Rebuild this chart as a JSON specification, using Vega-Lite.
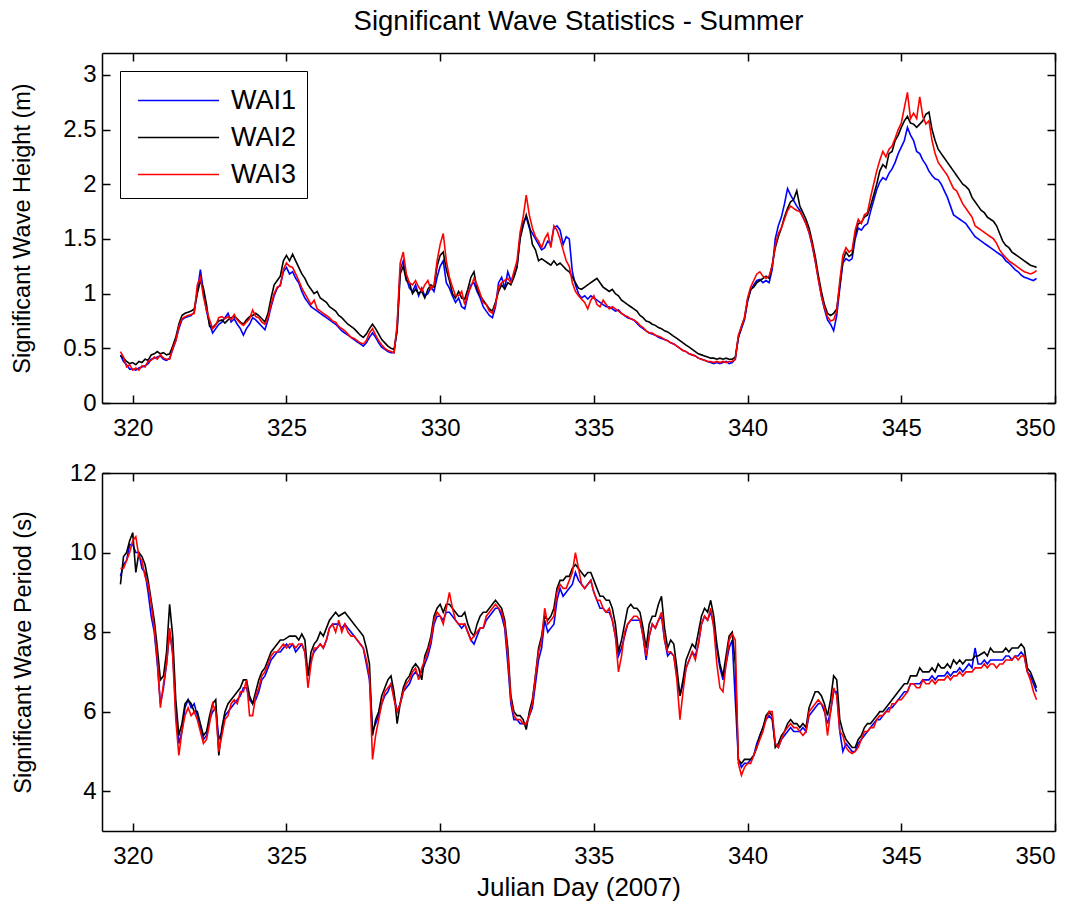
{
"$schema": "https://vega.github.io/schema/vega-lite/v6.json",
"padding": {"left": 10, "top": 7, "right": 20, "bottom": 5},
"spacing": 21,
"config": {
  "font": "Liberation Sans",
  "view": {"stroke": null},
  "axis": {"grid": false, "domainColor": "#000000", "tickColor": "#000000", "labelColor": "#000000", "titleColor": "#000000", "labelFontSize": 24, "titleFontSize": 23.5, "titleFontWeight": "normal", "tickSize": -8, "domainWidth": 1.5, "tickWidth": 1.5, "labelFont": "Liberation Sans", "titleFont": "Liberation Sans"}
},
"datasets": {
"hs": [
{"d":319.6,"WAI1":0.44,"WAI2":0.43,"WAI3":0.47},
{"d":319.7,"WAI1":0.38,"WAI2":0.41,"WAI3":0.42},
{"d":319.8,"WAI1":0.35,"WAI2":0.38,"WAI3":0.33},
{"d":319.9,"WAI1":0.31,"WAI2":0.36,"WAI3":0.35},
{"d":320.0,"WAI1":0.31,"WAI2":0.37,"WAI3":0.30},
{"d":320.1,"WAI1":0.30,"WAI2":0.35,"WAI3":0.32},
{"d":320.2,"WAI1":0.32,"WAI2":0.38,"WAI3":0.30},
{"d":320.3,"WAI1":0.33,"WAI2":0.37,"WAI3":0.34},
{"d":320.4,"WAI1":0.34,"WAI2":0.40,"WAI3":0.33},
{"d":320.5,"WAI1":0.36,"WAI2":0.39,"WAI3":0.38},
{"d":320.6,"WAI1":0.40,"WAI2":0.44,"WAI3":0.39},
{"d":320.7,"WAI1":0.41,"WAI2":0.45,"WAI3":0.42},
{"d":320.8,"WAI1":0.42,"WAI2":0.47,"WAI3":0.40},
{"d":320.9,"WAI1":0.43,"WAI2":0.45,"WAI3":0.44},
{"d":321.0,"WAI1":0.40,"WAI2":0.46,"WAI3":0.41},
{"d":321.1,"WAI1":0.39,"WAI2":0.44,"WAI3":0.40},
{"d":321.2,"WAI1":0.41,"WAI2":0.45,"WAI3":0.40},
{"d":321.3,"WAI1":0.49,"WAI2":0.52,"WAI3":0.50},
{"d":321.4,"WAI1":0.57,"WAI2":0.60,"WAI3":0.57},
{"d":321.5,"WAI1":0.68,"WAI2":0.72,"WAI3":0.70},
{"d":321.6,"WAI1":0.76,"WAI2":0.80,"WAI3":0.77},
{"d":321.7,"WAI1":0.78,"WAI2":0.82,"WAI3":0.79},
{"d":321.8,"WAI1":0.79,"WAI2":0.83,"WAI3":0.80},
{"d":321.9,"WAI1":0.80,"WAI2":0.84,"WAI3":0.81},
{"d":322.0,"WAI1":0.83,"WAI2":0.86,"WAI3":0.82},
{"d":322.1,"WAI1":1.02,"WAI2":1.00,"WAI3":1.08},
{"d":322.2,"WAI1":1.22,"WAI2":1.12,"WAI3":1.15},
{"d":322.3,"WAI1":1.02,"WAI2":1.05,"WAI3":0.97},
{"d":322.4,"WAI1":0.84,"WAI2":0.90,"WAI3":0.85},
{"d":322.5,"WAI1":0.72,"WAI2":0.70,"WAI3":0.76},
{"d":322.6,"WAI1":0.64,"WAI2":0.69,"WAI3":0.68},
{"d":322.7,"WAI1":0.68,"WAI2":0.72,"WAI3":0.71},
{"d":322.8,"WAI1":0.72,"WAI2":0.75,"WAI3":0.78},
{"d":322.9,"WAI1":0.74,"WAI2":0.76,"WAI3":0.79},
{"d":323.0,"WAI1":0.78,"WAI2":0.73,"WAI3":0.77},
{"d":323.1,"WAI1":0.82,"WAI2":0.76,"WAI3":0.79},
{"d":323.2,"WAI1":0.74,"WAI2":0.78,"WAI3":0.76},
{"d":323.3,"WAI1":0.77,"WAI2":0.79,"WAI3":0.81},
{"d":323.4,"WAI1":0.72,"WAI2":0.77,"WAI3":0.76},
{"d":323.5,"WAI1":0.68,"WAI2":0.74,"WAI3":0.73},
{"d":323.6,"WAI1":0.62,"WAI2":0.72,"WAI3":0.71},
{"d":323.7,"WAI1":0.68,"WAI2":0.76,"WAI3":0.74},
{"d":323.8,"WAI1":0.72,"WAI2":0.79,"WAI3":0.77},
{"d":323.9,"WAI1":0.78,"WAI2":0.80,"WAI3":0.85},
{"d":324.0,"WAI1":0.76,"WAI2":0.82,"WAI3":0.79},
{"d":324.1,"WAI1":0.73,"WAI2":0.80,"WAI3":0.78},
{"d":324.2,"WAI1":0.70,"WAI2":0.77,"WAI3":0.74},
{"d":324.3,"WAI1":0.67,"WAI2":0.74,"WAI3":0.72},
{"d":324.4,"WAI1":0.76,"WAI2":0.82,"WAI3":0.78},
{"d":324.5,"WAI1":0.88,"WAI2":0.96,"WAI3":0.90},
{"d":324.6,"WAI1":0.98,"WAI2":1.08,"WAI3":1.00},
{"d":324.7,"WAI1":1.05,"WAI2":1.12,"WAI3":1.06},
{"d":324.8,"WAI1":1.08,"WAI2":1.16,"WAI3":1.07},
{"d":324.9,"WAI1":1.20,"WAI2":1.30,"WAI3":1.22},
{"d":325.0,"WAI1":1.24,"WAI2":1.35,"WAI3":1.28},
{"d":325.1,"WAI1":1.18,"WAI2":1.30,"WAI3":1.25},
{"d":325.2,"WAI1":1.20,"WAI2":1.36,"WAI3":1.24},
{"d":325.3,"WAI1":1.14,"WAI2":1.30,"WAI3":1.18},
{"d":325.4,"WAI1":1.10,"WAI2":1.24,"WAI3":1.12},
{"d":325.5,"WAI1":1.02,"WAI2":1.18,"WAI3":1.05},
{"d":325.6,"WAI1":0.96,"WAI2":1.14,"WAI3":1.00},
{"d":325.7,"WAI1":0.92,"WAI2":1.08,"WAI3":0.95},
{"d":325.8,"WAI1":0.88,"WAI2":1.04,"WAI3":0.90},
{"d":325.9,"WAI1":0.86,"WAI2":1.00,"WAI3":0.94},
{"d":326.0,"WAI1":0.84,"WAI2":1.02,"WAI3":0.86},
{"d":326.1,"WAI1":0.82,"WAI2":0.96,"WAI3":0.84},
{"d":326.2,"WAI1":0.80,"WAI2":0.94,"WAI3":0.82},
{"d":326.3,"WAI1":0.78,"WAI2":0.92,"WAI3":0.80},
{"d":326.4,"WAI1":0.76,"WAI2":0.88,"WAI3":0.78},
{"d":326.5,"WAI1":0.74,"WAI2":0.86,"WAI3":0.75},
{"d":326.6,"WAI1":0.72,"WAI2":0.84,"WAI3":0.74},
{"d":326.7,"WAI1":0.69,"WAI2":0.80,"WAI3":0.70},
{"d":326.8,"WAI1":0.66,"WAI2":0.78,"WAI3":0.68},
{"d":326.9,"WAI1":0.64,"WAI2":0.75,"WAI3":0.66},
{"d":327.0,"WAI1":0.62,"WAI2":0.72,"WAI3":0.63},
{"d":327.1,"WAI1":0.60,"WAI2":0.70,"WAI3":0.60},
{"d":327.2,"WAI1":0.58,"WAI2":0.68,"WAI3":0.59},
{"d":327.3,"WAI1":0.56,"WAI2":0.65,"WAI3":0.57},
{"d":327.4,"WAI1":0.54,"WAI2":0.62,"WAI3":0.55},
{"d":327.5,"WAI1":0.52,"WAI2":0.60,"WAI3":0.54},
{"d":327.6,"WAI1":0.55,"WAI2":0.63,"WAI3":0.57},
{"d":327.7,"WAI1":0.60,"WAI2":0.68,"WAI3":0.64},
{"d":327.8,"WAI1":0.64,"WAI2":0.72,"WAI3":0.68},
{"d":327.9,"WAI1":0.60,"WAI2":0.68,"WAI3":0.62},
{"d":328.0,"WAI1":0.55,"WAI2":0.63,"WAI3":0.57},
{"d":328.1,"WAI1":0.51,"WAI2":0.58,"WAI3":0.53},
{"d":328.2,"WAI1":0.49,"WAI2":0.55,"WAI3":0.50},
{"d":328.3,"WAI1":0.47,"WAI2":0.52,"WAI3":0.48},
{"d":328.4,"WAI1":0.46,"WAI2":0.50,"WAI3":0.47},
{"d":328.5,"WAI1":0.46,"WAI2":0.49,"WAI3":0.46},
{"d":328.6,"WAI1":0.68,"WAI2":0.66,"WAI3":0.72},
{"d":328.7,"WAI1":1.22,"WAI2":1.18,"WAI3":1.28},
{"d":328.8,"WAI1":1.30,"WAI2":1.25,"WAI3":1.38},
{"d":328.9,"WAI1":1.14,"WAI2":1.12,"WAI3":1.18},
{"d":329.0,"WAI1":1.05,"WAI2":1.10,"WAI3":1.10},
{"d":329.1,"WAI1":1.02,"WAI2":1.00,"WAI3":1.08},
{"d":329.2,"WAI1":1.08,"WAI2":1.04,"WAI3":1.12},
{"d":329.3,"WAI1":0.98,"WAI2":1.00,"WAI3":1.06},
{"d":329.4,"WAI1":1.05,"WAI2":1.02,"WAI3":1.02},
{"d":329.5,"WAI1":0.98,"WAI2":0.96,"WAI3":1.08},
{"d":329.6,"WAI1":1.00,"WAI2":1.04,"WAI3":1.12},
{"d":329.7,"WAI1":1.06,"WAI2":1.08,"WAI3":1.04},
{"d":329.8,"WAI1":1.02,"WAI2":1.06,"WAI3":1.08},
{"d":329.9,"WAI1":1.15,"WAI2":1.25,"WAI3":1.30},
{"d":330.0,"WAI1":1.25,"WAI2":1.35,"WAI3":1.45},
{"d":330.1,"WAI1":1.30,"WAI2":1.38,"WAI3":1.55},
{"d":330.2,"WAI1":1.10,"WAI2":1.22,"WAI3":1.30},
{"d":330.3,"WAI1":1.05,"WAI2":1.12,"WAI3":1.15},
{"d":330.4,"WAI1":0.98,"WAI2":1.00,"WAI3":1.06},
{"d":330.5,"WAI1":0.92,"WAI2":0.96,"WAI3":0.98},
{"d":330.6,"WAI1":0.96,"WAI2":1.02,"WAI3":0.98},
{"d":330.7,"WAI1":0.88,"WAI2":0.96,"WAI3":1.02},
{"d":330.8,"WAI1":0.86,"WAI2":0.95,"WAI3":0.90},
{"d":330.9,"WAI1":0.98,"WAI2":1.04,"WAI3":1.00},
{"d":331.0,"WAI1":1.08,"WAI2":1.15,"WAI3":1.06},
{"d":331.1,"WAI1":1.10,"WAI2":1.20,"WAI3":1.14},
{"d":331.2,"WAI1":1.02,"WAI2":1.04,"WAI3":1.08},
{"d":331.3,"WAI1":0.96,"WAI2":0.98,"WAI3":1.00},
{"d":331.4,"WAI1":0.88,"WAI2":0.94,"WAI3":0.92},
{"d":331.5,"WAI1":0.84,"WAI2":0.90,"WAI3":0.90},
{"d":331.6,"WAI1":0.80,"WAI2":0.86,"WAI3":0.84},
{"d":331.7,"WAI1":0.78,"WAI2":0.84,"WAI3":0.82},
{"d":331.8,"WAI1":0.88,"WAI2":0.92,"WAI3":0.90},
{"d":331.9,"WAI1":1.10,"WAI2":1.02,"WAI3":1.06},
{"d":332.0,"WAI1":1.15,"WAI2":1.08,"WAI3":1.10},
{"d":332.1,"WAI1":1.05,"WAI2":1.04,"WAI3":1.12},
{"d":332.2,"WAI1":1.20,"WAI2":1.10,"WAI3":1.14},
{"d":332.3,"WAI1":1.12,"WAI2":1.08,"WAI3":1.10},
{"d":332.4,"WAI1":1.16,"WAI2":1.15,"WAI3":1.20},
{"d":332.5,"WAI1":1.25,"WAI2":1.24,"WAI3":1.30},
{"d":332.6,"WAI1":1.52,"WAI2":1.50,"WAI3":1.56},
{"d":332.7,"WAI1":1.65,"WAI2":1.62,"WAI3":1.70},
{"d":332.8,"WAI1":1.70,"WAI2":1.72,"WAI3":1.90},
{"d":332.9,"WAI1":1.60,"WAI2":1.62,"WAI3":1.72},
{"d":333.0,"WAI1":1.55,"WAI2":1.45,"WAI3":1.60},
{"d":333.1,"WAI1":1.50,"WAI2":1.40,"WAI3":1.52},
{"d":333.2,"WAI1":1.45,"WAI2":1.30,"WAI3":1.48},
{"d":333.3,"WAI1":1.40,"WAI2":1.32,"WAI3":1.42},
{"d":333.4,"WAI1":1.42,"WAI2":1.30,"WAI3":1.50},
{"d":333.5,"WAI1":1.48,"WAI2":1.28,"WAI3":1.55},
{"d":333.6,"WAI1":1.45,"WAI2":1.26,"WAI3":1.42},
{"d":333.7,"WAI1":1.60,"WAI2":1.30,"WAI3":1.62},
{"d":333.8,"WAI1":1.62,"WAI2":1.26,"WAI3":1.58},
{"d":333.9,"WAI1":1.58,"WAI2":1.28,"WAI3":1.50},
{"d":334.0,"WAI1":1.45,"WAI2":1.25,"WAI3":1.40},
{"d":334.1,"WAI1":1.52,"WAI2":1.22,"WAI3":1.30},
{"d":334.2,"WAI1":1.50,"WAI2":1.20,"WAI3":1.25},
{"d":334.3,"WAI1":1.20,"WAI2":1.15,"WAI3":1.10},
{"d":334.4,"WAI1":1.08,"WAI2":1.10,"WAI3":1.02},
{"d":334.5,"WAI1":1.00,"WAI2":1.05,"WAI3":0.98},
{"d":334.6,"WAI1":0.96,"WAI2":1.04,"WAI3":0.95},
{"d":334.7,"WAI1":0.98,"WAI2":1.06,"WAI3":0.92},
{"d":334.8,"WAI1":0.95,"WAI2":1.08,"WAI3":0.86},
{"d":334.9,"WAI1":0.98,"WAI2":1.10,"WAI3":0.94},
{"d":335.0,"WAI1":0.96,"WAI2":1.12,"WAI3":0.98},
{"d":335.1,"WAI1":0.94,"WAI2":1.14,"WAI3":0.90},
{"d":335.2,"WAI1":0.92,"WAI2":1.10,"WAI3":0.88},
{"d":335.3,"WAI1":0.90,"WAI2":1.06,"WAI3":0.94},
{"d":335.4,"WAI1":0.88,"WAI2":1.04,"WAI3":0.90},
{"d":335.5,"WAI1":0.88,"WAI2":1.02,"WAI3":0.86},
{"d":335.6,"WAI1":0.86,"WAI2":1.04,"WAI3":0.88},
{"d":335.7,"WAI1":0.84,"WAI2":1.00,"WAI3":0.86},
{"d":335.8,"WAI1":0.85,"WAI2":0.98,"WAI3":0.84},
{"d":335.9,"WAI1":0.82,"WAI2":0.94,"WAI3":0.82},
{"d":336.0,"WAI1":0.80,"WAI2":0.92,"WAI3":0.80},
{"d":336.1,"WAI1":0.78,"WAI2":0.90,"WAI3":0.79},
{"d":336.2,"WAI1":0.77,"WAI2":0.88,"WAI3":0.77},
{"d":336.3,"WAI1":0.76,"WAI2":0.86,"WAI3":0.76},
{"d":336.4,"WAI1":0.73,"WAI2":0.84,"WAI3":0.74},
{"d":336.5,"WAI1":0.70,"WAI2":0.80,"WAI3":0.71},
{"d":336.6,"WAI1":0.68,"WAI2":0.78,"WAI3":0.69},
{"d":336.7,"WAI1":0.66,"WAI2":0.75,"WAI3":0.66},
{"d":336.8,"WAI1":0.64,"WAI2":0.74,"WAI3":0.64},
{"d":336.9,"WAI1":0.63,"WAI2":0.72,"WAI3":0.64},
{"d":337.0,"WAI1":0.62,"WAI2":0.71,"WAI3":0.62},
{"d":337.1,"WAI1":0.60,"WAI2":0.69,"WAI3":0.61},
{"d":337.2,"WAI1":0.59,"WAI2":0.68,"WAI3":0.60},
{"d":337.3,"WAI1":0.58,"WAI2":0.66,"WAI3":0.58},
{"d":337.4,"WAI1":0.57,"WAI2":0.65,"WAI3":0.57},
{"d":337.5,"WAI1":0.55,"WAI2":0.63,"WAI3":0.55},
{"d":337.6,"WAI1":0.54,"WAI2":0.61,"WAI3":0.54},
{"d":337.7,"WAI1":0.52,"WAI2":0.59,"WAI3":0.52},
{"d":337.8,"WAI1":0.50,"WAI2":0.57,"WAI3":0.50},
{"d":337.9,"WAI1":0.48,"WAI2":0.55,"WAI3":0.48},
{"d":338.0,"WAI1":0.47,"WAI2":0.53,"WAI3":0.47},
{"d":338.1,"WAI1":0.45,"WAI2":0.51,"WAI3":0.45},
{"d":338.2,"WAI1":0.44,"WAI2":0.49,"WAI3":0.44},
{"d":338.3,"WAI1":0.43,"WAI2":0.47,"WAI3":0.43},
{"d":338.4,"WAI1":0.41,"WAI2":0.45,"WAI3":0.41},
{"d":338.5,"WAI1":0.40,"WAI2":0.44,"WAI3":0.40},
{"d":338.6,"WAI1":0.39,"WAI2":0.43,"WAI3":0.39},
{"d":338.7,"WAI1":0.38,"WAI2":0.42,"WAI3":0.38},
{"d":338.8,"WAI1":0.37,"WAI2":0.41,"WAI3":0.38},
{"d":338.9,"WAI1":0.36,"WAI2":0.41,"WAI3":0.37},
{"d":339.0,"WAI1":0.37,"WAI2":0.40,"WAI3":0.38},
{"d":339.1,"WAI1":0.36,"WAI2":0.41,"WAI3":0.37},
{"d":339.2,"WAI1":0.37,"WAI2":0.40,"WAI3":0.38},
{"d":339.3,"WAI1":0.38,"WAI2":0.41,"WAI3":0.37},
{"d":339.4,"WAI1":0.36,"WAI2":0.40,"WAI3":0.38},
{"d":339.5,"WAI1":0.37,"WAI2":0.40,"WAI3":0.38},
{"d":339.6,"WAI1":0.40,"WAI2":0.42,"WAI3":0.40},
{"d":339.7,"WAI1":0.60,"WAI2":0.60,"WAI3":0.62},
{"d":339.8,"WAI1":0.68,"WAI2":0.70,"WAI3":0.70},
{"d":339.9,"WAI1":0.76,"WAI2":0.78,"WAI3":0.78},
{"d":340.0,"WAI1":0.93,"WAI2":0.94,"WAI3":0.96},
{"d":340.1,"WAI1":1.03,"WAI2":1.04,"WAI3":1.06},
{"d":340.2,"WAI1":1.08,"WAI2":1.06,"WAI3":1.12},
{"d":340.3,"WAI1":1.12,"WAI2":1.10,"WAI3":1.18},
{"d":340.4,"WAI1":1.13,"WAI2":1.12,"WAI3":1.20},
{"d":340.5,"WAI1":1.10,"WAI2":1.14,"WAI3":1.16},
{"d":340.6,"WAI1":1.12,"WAI2":1.16,"WAI3":1.14},
{"d":340.7,"WAI1":1.10,"WAI2":1.14,"WAI3":1.16},
{"d":340.8,"WAI1":1.22,"WAI2":1.26,"WAI3":1.25},
{"d":340.9,"WAI1":1.50,"WAI2":1.42,"WAI3":1.44},
{"d":341.0,"WAI1":1.62,"WAI2":1.52,"WAI3":1.55},
{"d":341.1,"WAI1":1.70,"WAI2":1.60,"WAI3":1.60},
{"d":341.2,"WAI1":1.82,"WAI2":1.70,"WAI3":1.68},
{"d":341.3,"WAI1":1.96,"WAI2":1.78,"WAI3":1.76},
{"d":341.4,"WAI1":1.90,"WAI2":1.84,"WAI3":1.80},
{"d":341.5,"WAI1":1.85,"WAI2":1.86,"WAI3":1.78},
{"d":341.6,"WAI1":1.80,"WAI2":1.94,"WAI3":1.76},
{"d":341.7,"WAI1":1.76,"WAI2":1.80,"WAI3":1.75},
{"d":341.8,"WAI1":1.70,"WAI2":1.74,"WAI3":1.70},
{"d":341.9,"WAI1":1.64,"WAI2":1.68,"WAI3":1.64},
{"d":342.0,"WAI1":1.56,"WAI2":1.60,"WAI3":1.56},
{"d":342.1,"WAI1":1.44,"WAI2":1.48,"WAI3":1.45},
{"d":342.2,"WAI1":1.30,"WAI2":1.34,"WAI3":1.30},
{"d":342.3,"WAI1":1.14,"WAI2":1.17,"WAI3":1.13},
{"d":342.4,"WAI1":0.98,"WAI2":1.02,"WAI3":0.98},
{"d":342.5,"WAI1":0.86,"WAI2":0.90,"WAI3":0.87},
{"d":342.6,"WAI1":0.76,"WAI2":0.82,"WAI3":0.79},
{"d":342.7,"WAI1":0.72,"WAI2":0.80,"WAI3":0.75},
{"d":342.8,"WAI1":0.66,"WAI2":0.82,"WAI3":0.76},
{"d":342.9,"WAI1":0.80,"WAI2":0.86,"WAI3":0.84},
{"d":343.0,"WAI1":1.05,"WAI2":1.08,"WAI3":1.12},
{"d":343.1,"WAI1":1.28,"WAI2":1.30,"WAI3":1.35},
{"d":343.2,"WAI1":1.32,"WAI2":1.38,"WAI3":1.42},
{"d":343.3,"WAI1":1.30,"WAI2":1.34,"WAI3":1.38},
{"d":343.4,"WAI1":1.32,"WAI2":1.36,"WAI3":1.40},
{"d":343.5,"WAI1":1.50,"WAI2":1.54,"WAI3":1.58},
{"d":343.6,"WAI1":1.60,"WAI2":1.64,"WAI3":1.68},
{"d":343.7,"WAI1":1.58,"WAI2":1.65,"WAI3":1.64},
{"d":343.8,"WAI1":1.62,"WAI2":1.70,"WAI3":1.72},
{"d":343.9,"WAI1":1.64,"WAI2":1.72,"WAI3":1.74},
{"d":344.0,"WAI1":1.75,"WAI2":1.80,"WAI3":1.88},
{"d":344.1,"WAI1":1.85,"WAI2":1.90,"WAI3":2.00},
{"d":344.2,"WAI1":1.95,"WAI2":2.00,"WAI3":2.12},
{"d":344.3,"WAI1":2.02,"WAI2":2.12,"WAI3":2.22},
{"d":344.4,"WAI1":2.06,"WAI2":2.18,"WAI3":2.30},
{"d":344.5,"WAI1":2.04,"WAI2":2.15,"WAI3":2.25},
{"d":344.6,"WAI1":2.10,"WAI2":2.28,"WAI3":2.32},
{"d":344.7,"WAI1":2.14,"WAI2":2.30,"WAI3":2.35},
{"d":344.8,"WAI1":2.20,"WAI2":2.40,"WAI3":2.42},
{"d":344.9,"WAI1":2.28,"WAI2":2.45,"WAI3":2.50},
{"d":345.0,"WAI1":2.34,"WAI2":2.52,"WAI3":2.56},
{"d":345.1,"WAI1":2.40,"WAI2":2.58,"WAI3":2.70},
{"d":345.2,"WAI1":2.52,"WAI2":2.62,"WAI3":2.84},
{"d":345.3,"WAI1":2.45,"WAI2":2.56,"WAI3":2.60},
{"d":345.4,"WAI1":2.40,"WAI2":2.55,"WAI3":2.65},
{"d":345.5,"WAI1":2.30,"WAI2":2.52,"WAI3":2.60},
{"d":345.6,"WAI1":2.28,"WAI2":2.55,"WAI3":2.80},
{"d":345.7,"WAI1":2.22,"WAI2":2.58,"WAI3":2.62},
{"d":345.8,"WAI1":2.18,"WAI2":2.64,"WAI3":2.55},
{"d":345.9,"WAI1":2.12,"WAI2":2.66,"WAI3":2.58},
{"d":346.0,"WAI1":2.08,"WAI2":2.50,"WAI3":2.40},
{"d":346.1,"WAI1":2.05,"WAI2":2.40,"WAI3":2.28},
{"d":346.2,"WAI1":2.04,"WAI2":2.32,"WAI3":2.20},
{"d":346.3,"WAI1":2.00,"WAI2":2.28,"WAI3":2.16},
{"d":346.4,"WAI1":1.94,"WAI2":2.24,"WAI3":2.12},
{"d":346.5,"WAI1":1.88,"WAI2":2.20,"WAI3":2.08},
{"d":346.6,"WAI1":1.80,"WAI2":2.16,"WAI3":2.02},
{"d":346.7,"WAI1":1.72,"WAI2":2.12,"WAI3":1.96},
{"d":346.8,"WAI1":1.70,"WAI2":2.08,"WAI3":1.94},
{"d":346.9,"WAI1":1.68,"WAI2":2.04,"WAI3":1.88},
{"d":347.0,"WAI1":1.66,"WAI2":2.00,"WAI3":1.82},
{"d":347.1,"WAI1":1.64,"WAI2":1.98,"WAI3":1.78},
{"d":347.2,"WAI1":1.60,"WAI2":1.95,"WAI3":1.74},
{"d":347.3,"WAI1":1.56,"WAI2":1.88,"WAI3":1.70},
{"d":347.4,"WAI1":1.52,"WAI2":1.84,"WAI3":1.62},
{"d":347.5,"WAI1":1.50,"WAI2":1.80,"WAI3":1.60},
{"d":347.6,"WAI1":1.48,"WAI2":1.76,"WAI3":1.58},
{"d":347.7,"WAI1":1.46,"WAI2":1.74,"WAI3":1.56},
{"d":347.8,"WAI1":1.44,"WAI2":1.70,"WAI3":1.54},
{"d":347.9,"WAI1":1.42,"WAI2":1.68,"WAI3":1.52},
{"d":348.0,"WAI1":1.40,"WAI2":1.66,"WAI3":1.50},
{"d":348.1,"WAI1":1.38,"WAI2":1.62,"WAI3":1.46},
{"d":348.2,"WAI1":1.36,"WAI2":1.55,"WAI3":1.40},
{"d":348.3,"WAI1":1.34,"WAI2":1.48,"WAI3":1.36},
{"d":348.4,"WAI1":1.30,"WAI2":1.44,"WAI3":1.33},
{"d":348.5,"WAI1":1.28,"WAI2":1.42,"WAI3":1.30},
{"d":348.6,"WAI1":1.25,"WAI2":1.38,"WAI3":1.28},
{"d":348.7,"WAI1":1.22,"WAI2":1.36,"WAI3":1.26},
{"d":348.8,"WAI1":1.20,"WAI2":1.34,"WAI3":1.24},
{"d":348.9,"WAI1":1.17,"WAI2":1.32,"WAI3":1.22},
{"d":349.0,"WAI1":1.15,"WAI2":1.30,"WAI3":1.20},
{"d":349.1,"WAI1":1.14,"WAI2":1.28,"WAI3":1.19},
{"d":349.2,"WAI1":1.13,"WAI2":1.26,"WAI3":1.18},
{"d":349.3,"WAI1":1.12,"WAI2":1.25,"WAI3":1.19},
{"d":349.4,"WAI1":1.14,"WAI2":1.24,"WAI3":1.21}
],
"tp": [
{"d":319.6,"WAI1":9.4,"WAI2":9.2,"WAI3":9.6},
{"d":319.7,"WAI1":9.7,"WAI2":9.9,"WAI3":9.6},
{"d":319.8,"WAI1":9.8,"WAI2":10.0,"WAI3":9.8},
{"d":319.9,"WAI1":10.2,"WAI2":10.3,"WAI3":10.0},
{"d":320.0,"WAI1":10.2,"WAI2":10.5,"WAI3":10.3},
{"d":320.1,"WAI1":10.0,"WAI2":9.5,"WAI3":10.4},
{"d":320.2,"WAI1":10.0,"WAI2":10.0,"WAI3":9.9},
{"d":320.3,"WAI1":9.6,"WAI2":9.9,"WAI3":9.8},
{"d":320.4,"WAI1":9.5,"WAI2":9.7,"WAI3":9.4},
{"d":320.5,"WAI1":9.0,"WAI2":9.3,"WAI3":9.2},
{"d":320.6,"WAI1":8.4,"WAI2":8.8,"WAI3":8.7},
{"d":320.7,"WAI1":8.0,"WAI2":8.3,"WAI3":8.1},
{"d":320.8,"WAI1":7.2,"WAI2":7.6,"WAI3":7.3},
{"d":320.9,"WAI1":6.2,"WAI2":6.8,"WAI3":6.1},
{"d":321.0,"WAI1":6.6,"WAI2":6.9,"WAI3":6.7},
{"d":321.1,"WAI1":7.2,"WAI2":7.5,"WAI3":7.2},
{"d":321.2,"WAI1":8.0,"WAI2":8.7,"WAI3":8.1},
{"d":321.3,"WAI1":7.5,"WAI2":7.9,"WAI3":7.4},
{"d":321.4,"WAI1":6.0,"WAI2":6.3,"WAI3":5.8},
{"d":321.5,"WAI1":5.2,"WAI2":5.4,"WAI3":4.9},
{"d":321.6,"WAI1":5.5,"WAI2":5.7,"WAI3":5.5},
{"d":321.7,"WAI1":6.1,"WAI2":6.2,"WAI3":5.9},
{"d":321.8,"WAI1":6.3,"WAI2":6.3,"WAI3":6.1},
{"d":321.9,"WAI1":6.1,"WAI2":6.2,"WAI3":5.9},
{"d":322.0,"WAI1":6.2,"WAI2":6.0,"WAI3":6.0},
{"d":322.1,"WAI1":5.9,"WAI2":6.0,"WAI3":5.8},
{"d":322.2,"WAI1":5.6,"WAI2":5.7,"WAI3":5.5},
{"d":322.3,"WAI1":5.3,"WAI2":5.4,"WAI3":5.2},
{"d":322.4,"WAI1":5.4,"WAI2":5.5,"WAI3":5.3},
{"d":322.5,"WAI1":5.8,"WAI2":5.9,"WAI3":5.7},
{"d":322.6,"WAI1":6.0,"WAI2":6.2,"WAI3":6.2},
{"d":322.7,"WAI1":6.1,"WAI2":6.3,"WAI3":6.0},
{"d":322.8,"WAI1":5.3,"WAI2":4.9,"WAI3":5.0},
{"d":322.9,"WAI1":5.5,"WAI2":5.6,"WAI3":5.4},
{"d":323.0,"WAI1":5.9,"WAI2":6.0,"WAI3":5.8},
{"d":323.1,"WAI1":6.0,"WAI2":6.2,"WAI3":5.9},
{"d":323.2,"WAI1":6.1,"WAI2":6.3,"WAI3":6.2},
{"d":323.3,"WAI1":6.2,"WAI2":6.4,"WAI3":6.3},
{"d":323.4,"WAI1":6.3,"WAI2":6.5,"WAI3":6.2},
{"d":323.5,"WAI1":6.4,"WAI2":6.6,"WAI3":6.5},
{"d":323.6,"WAI1":6.6,"WAI2":6.8,"WAI3":6.5},
{"d":323.7,"WAI1":6.6,"WAI2":6.8,"WAI3":6.8},
{"d":323.8,"WAI1":6.3,"WAI2":6.4,"WAI3":5.9},
{"d":323.9,"WAI1":6.2,"WAI2":6.2,"WAI3":5.9},
{"d":324.0,"WAI1":6.3,"WAI2":6.5,"WAI3":6.4},
{"d":324.1,"WAI1":6.5,"WAI2":6.8,"WAI3":6.6},
{"d":324.2,"WAI1":6.8,"WAI2":7.0,"WAI3":6.9},
{"d":324.3,"WAI1":6.9,"WAI2":7.1,"WAI3":7.0},
{"d":324.4,"WAI1":7.1,"WAI2":7.3,"WAI3":7.2},
{"d":324.5,"WAI1":7.3,"WAI2":7.5,"WAI3":7.4},
{"d":324.6,"WAI1":7.4,"WAI2":7.6,"WAI3":7.5},
{"d":324.7,"WAI1":7.5,"WAI2":7.7,"WAI3":7.5},
{"d":324.8,"WAI1":7.5,"WAI2":7.8,"WAI3":7.6},
{"d":324.9,"WAI1":7.6,"WAI2":7.8,"WAI3":7.7},
{"d":325.0,"WAI1":7.7,"WAI2":7.85,"WAI3":7.6},
{"d":325.1,"WAI1":7.6,"WAI2":7.9,"WAI3":7.7},
{"d":325.2,"WAI1":7.7,"WAI2":7.9,"WAI3":7.7},
{"d":325.3,"WAI1":7.5,"WAI2":7.9,"WAI3":7.6},
{"d":325.4,"WAI1":7.6,"WAI2":7.8,"WAI3":7.7},
{"d":325.5,"WAI1":7.7,"WAI2":7.95,"WAI3":7.7},
{"d":325.6,"WAI1":7.5,"WAI2":7.8,"WAI3":7.5},
{"d":325.7,"WAI1":6.9,"WAI2":6.9,"WAI3":6.6},
{"d":325.8,"WAI1":7.3,"WAI2":7.5,"WAI3":7.2},
{"d":325.9,"WAI1":7.5,"WAI2":7.7,"WAI3":7.6},
{"d":326.0,"WAI1":7.6,"WAI2":7.8,"WAI3":7.6},
{"d":326.1,"WAI1":7.7,"WAI2":8.0,"WAI3":7.7},
{"d":326.2,"WAI1":7.6,"WAI2":7.9,"WAI3":7.6},
{"d":326.3,"WAI1":7.8,"WAI2":8.1,"WAI3":7.8},
{"d":326.4,"WAI1":8.1,"WAI2":8.3,"WAI3":8.1},
{"d":326.5,"WAI1":8.2,"WAI2":8.4,"WAI3":8.2},
{"d":326.6,"WAI1":8.2,"WAI2":8.5,"WAI3":8.0},
{"d":326.7,"WAI1":8.2,"WAI2":8.4,"WAI3":8.3},
{"d":326.8,"WAI1":8.1,"WAI2":8.45,"WAI3":8.0},
{"d":326.9,"WAI1":8.2,"WAI2":8.5,"WAI3":8.2},
{"d":327.0,"WAI1":8.1,"WAI2":8.4,"WAI3":8.0},
{"d":327.1,"WAI1":8.0,"WAI2":8.3,"WAI3":7.9},
{"d":327.2,"WAI1":7.9,"WAI2":8.2,"WAI3":7.9},
{"d":327.3,"WAI1":7.8,"WAI2":8.1,"WAI3":7.8},
{"d":327.4,"WAI1":7.7,"WAI2":8.0,"WAI3":7.7},
{"d":327.5,"WAI1":7.6,"WAI2":7.9,"WAI3":7.6},
{"d":327.6,"WAI1":7.2,"WAI2":7.6,"WAI3":7.3},
{"d":327.7,"WAI1":6.8,"WAI2":7.2,"WAI3":6.9},
{"d":327.8,"WAI1":5.5,"WAI2":5.4,"WAI3":4.8},
{"d":327.9,"WAI1":5.7,"WAI2":5.8,"WAI3":5.4},
{"d":328.0,"WAI1":5.9,"WAI2":6.0,"WAI3":5.8},
{"d":328.1,"WAI1":6.2,"WAI2":6.4,"WAI3":6.2},
{"d":328.2,"WAI1":6.4,"WAI2":6.6,"WAI3":6.5},
{"d":328.3,"WAI1":6.5,"WAI2":6.8,"WAI3":6.6},
{"d":328.4,"WAI1":6.7,"WAI2":6.9,"WAI3":6.7},
{"d":328.5,"WAI1":6.4,"WAI2":6.5,"WAI3":6.3},
{"d":328.6,"WAI1":6.0,"WAI2":5.7,"WAI3":6.0},
{"d":328.7,"WAI1":6.2,"WAI2":6.2,"WAI3":6.2},
{"d":328.8,"WAI1":6.5,"WAI2":6.6,"WAI3":6.5},
{"d":328.9,"WAI1":6.6,"WAI2":6.8,"WAI3":6.7},
{"d":329.0,"WAI1":6.7,"WAI2":6.9,"WAI3":6.8},
{"d":329.1,"WAI1":6.9,"WAI2":7.1,"WAI3":7.0},
{"d":329.2,"WAI1":7.0,"WAI2":7.2,"WAI3":7.1},
{"d":329.3,"WAI1":6.9,"WAI2":7.1,"WAI3":6.8},
{"d":329.4,"WAI1":7.0,"WAI2":6.8,"WAI3":7.1},
{"d":329.5,"WAI1":7.2,"WAI2":7.4,"WAI3":7.3},
{"d":329.6,"WAI1":7.4,"WAI2":7.6,"WAI3":7.5},
{"d":329.7,"WAI1":7.7,"WAI2":7.9,"WAI3":7.8},
{"d":329.8,"WAI1":8.2,"WAI2":8.4,"WAI3":8.3},
{"d":329.9,"WAI1":8.4,"WAI2":8.6,"WAI3":8.5},
{"d":330.0,"WAI1":8.4,"WAI2":8.7,"WAI3":8.4},
{"d":330.1,"WAI1":8.3,"WAI2":8.5,"WAI3":8.2},
{"d":330.2,"WAI1":8.5,"WAI2":8.7,"WAI3":8.6},
{"d":330.3,"WAI1":8.5,"WAI2":8.7,"WAI3":9.0},
{"d":330.4,"WAI1":8.4,"WAI2":8.6,"WAI3":8.6},
{"d":330.5,"WAI1":8.3,"WAI2":8.5,"WAI3":8.3},
{"d":330.6,"WAI1":8.2,"WAI2":8.4,"WAI3":8.2},
{"d":330.7,"WAI1":8.1,"WAI2":8.4,"WAI3":8.2},
{"d":330.8,"WAI1":8.2,"WAI2":8.5,"WAI3":8.2},
{"d":330.9,"WAI1":8.0,"WAI2":8.2,"WAI3":8.0},
{"d":331.0,"WAI1":7.8,"WAI2":8.0,"WAI3":7.8},
{"d":331.1,"WAI1":7.7,"WAI2":7.9,"WAI3":7.9},
{"d":331.2,"WAI1":7.9,"WAI2":8.2,"WAI3":8.0},
{"d":331.3,"WAI1":8.1,"WAI2":8.4,"WAI3":8.1},
{"d":331.4,"WAI1":8.1,"WAI2":8.5,"WAI3":8.1},
{"d":331.5,"WAI1":8.3,"WAI2":8.5,"WAI3":8.4},
{"d":331.6,"WAI1":8.4,"WAI2":8.6,"WAI3":8.5},
{"d":331.7,"WAI1":8.5,"WAI2":8.7,"WAI3":8.6},
{"d":331.8,"WAI1":8.6,"WAI2":8.8,"WAI3":8.7},
{"d":331.9,"WAI1":8.6,"WAI2":8.7,"WAI3":8.6},
{"d":332.0,"WAI1":8.4,"WAI2":8.6,"WAI3":8.5},
{"d":332.1,"WAI1":8.1,"WAI2":8.3,"WAI3":8.2},
{"d":332.2,"WAI1":7.2,"WAI2":7.6,"WAI3":7.4},
{"d":332.3,"WAI1":6.2,"WAI2":6.4,"WAI3":6.3},
{"d":332.4,"WAI1":5.8,"WAI2":6.0,"WAI3":5.9},
{"d":332.5,"WAI1":5.8,"WAI2":5.9,"WAI3":5.8},
{"d":332.6,"WAI1":5.7,"WAI2":5.9,"WAI3":5.8},
{"d":332.7,"WAI1":5.7,"WAI2":5.8,"WAI3":5.7},
{"d":332.8,"WAI1":5.7,"WAI2":5.55,"WAI3":5.7},
{"d":332.9,"WAI1":5.9,"WAI2":6.0,"WAI3":5.9},
{"d":333.0,"WAI1":6.1,"WAI2":6.3,"WAI3":6.2},
{"d":333.1,"WAI1":6.7,"WAI2":6.9,"WAI3":6.9},
{"d":333.2,"WAI1":7.3,"WAI2":7.6,"WAI3":7.5},
{"d":333.3,"WAI1":7.6,"WAI2":7.9,"WAI3":7.8},
{"d":333.4,"WAI1":8.3,"WAI2":8.4,"WAI3":8.6},
{"d":333.5,"WAI1":8.0,"WAI2":8.3,"WAI3":8.2},
{"d":333.6,"WAI1":8.1,"WAI2":8.4,"WAI3":8.3},
{"d":333.7,"WAI1":8.2,"WAI2":8.6,"WAI3":8.4},
{"d":333.8,"WAI1":8.8,"WAI2":9.1,"WAI3":9.0},
{"d":333.9,"WAI1":9.1,"WAI2":9.3,"WAI3":9.2},
{"d":334.0,"WAI1":8.9,"WAI2":9.3,"WAI3":9.1},
{"d":334.1,"WAI1":9.0,"WAI2":9.4,"WAI3":9.1},
{"d":334.2,"WAI1":9.1,"WAI2":9.4,"WAI3":9.3},
{"d":334.3,"WAI1":9.2,"WAI2":9.6,"WAI3":9.5},
{"d":334.4,"WAI1":9.5,"WAI2":9.7,"WAI3":10.0},
{"d":334.5,"WAI1":9.3,"WAI2":9.6,"WAI3":9.6},
{"d":334.6,"WAI1":9.2,"WAI2":9.5,"WAI3":9.2},
{"d":334.7,"WAI1":9.1,"WAI2":9.4,"WAI3":9.1},
{"d":334.8,"WAI1":9.2,"WAI2":9.5,"WAI3":9.2},
{"d":334.9,"WAI1":9.3,"WAI2":9.5,"WAI3":9.3},
{"d":335.0,"WAI1":9.0,"WAI2":9.3,"WAI3":9.0},
{"d":335.1,"WAI1":8.8,"WAI2":9.1,"WAI3":8.8},
{"d":335.2,"WAI1":8.6,"WAI2":8.9,"WAI3":8.8},
{"d":335.3,"WAI1":8.6,"WAI2":8.9,"WAI3":8.6},
{"d":335.4,"WAI1":8.5,"WAI2":8.8,"WAI3":8.5},
{"d":335.5,"WAI1":8.5,"WAI2":8.8,"WAI3":8.6},
{"d":335.6,"WAI1":8.3,"WAI2":8.6,"WAI3":8.3},
{"d":335.7,"WAI1":7.9,"WAI2":8.2,"WAI3":7.9},
{"d":335.8,"WAI1":7.4,"WAI2":7.5,"WAI3":7.0},
{"d":335.9,"WAI1":7.6,"WAI2":7.8,"WAI3":7.4},
{"d":336.0,"WAI1":7.9,"WAI2":8.2,"WAI3":8.0},
{"d":336.1,"WAI1":8.2,"WAI2":8.6,"WAI3":8.2},
{"d":336.2,"WAI1":8.3,"WAI2":8.7,"WAI3":8.3},
{"d":336.3,"WAI1":8.3,"WAI2":8.6,"WAI3":8.4},
{"d":336.4,"WAI1":8.3,"WAI2":8.6,"WAI3":8.4},
{"d":336.5,"WAI1":8.3,"WAI2":8.5,"WAI3":8.3},
{"d":336.6,"WAI1":7.9,"WAI2":8.1,"WAI3":7.9},
{"d":336.7,"WAI1":7.3,"WAI2":7.6,"WAI3":7.4},
{"d":336.8,"WAI1":7.9,"WAI2":8.2,"WAI3":7.9},
{"d":336.9,"WAI1":8.2,"WAI2":8.4,"WAI3":8.2},
{"d":337.0,"WAI1":8.1,"WAI2":8.4,"WAI3":8.1},
{"d":337.1,"WAI1":8.3,"WAI2":8.7,"WAI3":8.3},
{"d":337.2,"WAI1":8.4,"WAI2":8.9,"WAI3":8.5},
{"d":337.3,"WAI1":7.8,"WAI2":8.1,"WAI3":7.8},
{"d":337.4,"WAI1":7.4,"WAI2":7.6,"WAI3":7.5},
{"d":337.5,"WAI1":7.5,"WAI2":7.8,"WAI3":7.5},
{"d":337.6,"WAI1":7.4,"WAI2":7.7,"WAI3":7.4},
{"d":337.7,"WAI1":6.9,"WAI2":7.1,"WAI3":6.8},
{"d":337.8,"WAI1":6.4,"WAI2":6.4,"WAI3":5.8},
{"d":337.9,"WAI1":6.7,"WAI2":6.8,"WAI3":6.5},
{"d":338.0,"WAI1":7.1,"WAI2":7.3,"WAI3":7.1},
{"d":338.1,"WAI1":7.3,"WAI2":7.5,"WAI3":7.3},
{"d":338.2,"WAI1":7.5,"WAI2":7.7,"WAI3":7.5},
{"d":338.3,"WAI1":7.4,"WAI2":7.6,"WAI3":7.3},
{"d":338.4,"WAI1":7.7,"WAI2":8.0,"WAI3":7.7},
{"d":338.5,"WAI1":8.2,"WAI2":8.4,"WAI3":8.2},
{"d":338.6,"WAI1":8.4,"WAI2":8.6,"WAI3":8.4},
{"d":338.7,"WAI1":8.3,"WAI2":8.5,"WAI3":8.3},
{"d":338.8,"WAI1":8.5,"WAI2":8.8,"WAI3":8.6},
{"d":338.9,"WAI1":8.2,"WAI2":8.4,"WAI3":8.1},
{"d":339.0,"WAI1":7.6,"WAI2":7.7,"WAI3":7.2},
{"d":339.1,"WAI1":7.1,"WAI2":7.2,"WAI3":6.6},
{"d":339.2,"WAI1":6.8,"WAI2":6.9,"WAI3":6.5},
{"d":339.3,"WAI1":7.2,"WAI2":7.4,"WAI3":7.2},
{"d":339.4,"WAI1":7.6,"WAI2":7.9,"WAI3":7.8},
{"d":339.5,"WAI1":7.8,"WAI2":8.0,"WAI3":7.95},
{"d":339.6,"WAI1":6.3,"WAI2":7.2,"WAI3":7.8},
{"d":339.7,"WAI1":4.8,"WAI2":4.8,"WAI3":4.7},
{"d":339.8,"WAI1":4.6,"WAI2":4.7,"WAI3":4.4},
{"d":339.9,"WAI1":4.7,"WAI2":4.8,"WAI3":4.6},
{"d":340.0,"WAI1":4.7,"WAI2":4.8,"WAI3":4.7},
{"d":340.1,"WAI1":4.8,"WAI2":4.8,"WAI3":4.7},
{"d":340.2,"WAI1":4.9,"WAI2":4.9,"WAI3":4.9},
{"d":340.3,"WAI1":5.2,"WAI2":5.1,"WAI3":5.1},
{"d":340.4,"WAI1":5.4,"WAI2":5.4,"WAI3":5.3},
{"d":340.5,"WAI1":5.6,"WAI2":5.6,"WAI3":5.5},
{"d":340.6,"WAI1":5.8,"WAI2":5.9,"WAI3":5.8},
{"d":340.7,"WAI1":5.9,"WAI2":6.0,"WAI3":6.0},
{"d":340.8,"WAI1":5.8,"WAI2":5.9,"WAI3":6.0},
{"d":340.9,"WAI1":5.2,"WAI2":5.1,"WAI3":5.2},
{"d":341.0,"WAI1":5.1,"WAI2":5.2,"WAI3":5.1},
{"d":341.1,"WAI1":5.3,"WAI2":5.4,"WAI3":5.3},
{"d":341.2,"WAI1":5.4,"WAI2":5.5,"WAI3":5.5},
{"d":341.3,"WAI1":5.5,"WAI2":5.7,"WAI3":5.6},
{"d":341.4,"WAI1":5.6,"WAI2":5.8,"WAI3":5.7},
{"d":341.5,"WAI1":5.5,"WAI2":5.7,"WAI3":5.6},
{"d":341.6,"WAI1":5.5,"WAI2":5.7,"WAI3":5.6},
{"d":341.7,"WAI1":5.5,"WAI2":5.6,"WAI3":5.5},
{"d":341.8,"WAI1":5.6,"WAI2":5.7,"WAI3":5.4},
{"d":341.9,"WAI1":5.5,"WAI2":5.6,"WAI3":5.5},
{"d":342.0,"WAI1":5.9,"WAI2":6.1,"WAI3":6.0},
{"d":342.1,"WAI1":6.0,"WAI2":6.3,"WAI3":6.1},
{"d":342.2,"WAI1":6.1,"WAI2":6.5,"WAI3":6.2},
{"d":342.3,"WAI1":6.2,"WAI2":6.5,"WAI3":6.3},
{"d":342.4,"WAI1":6.2,"WAI2":6.4,"WAI3":6.2},
{"d":342.5,"WAI1":6.0,"WAI2":6.2,"WAI3":6.1},
{"d":342.6,"WAI1":5.7,"WAI2":5.9,"WAI3":5.4},
{"d":342.7,"WAI1":6.0,"WAI2":6.3,"WAI3":6.0},
{"d":342.8,"WAI1":6.5,"WAI2":6.9,"WAI3":6.6},
{"d":342.9,"WAI1":6.5,"WAI2":6.8,"WAI3":6.4},
{"d":343.0,"WAI1":5.5,"WAI2":5.8,"WAI3":5.5},
{"d":343.1,"WAI1":5.0,"WAI2":5.5,"WAI3":5.4},
{"d":343.2,"WAI1":5.2,"WAI2":5.3,"WAI3":5.1},
{"d":343.3,"WAI1":5.1,"WAI2":5.2,"WAI3":5.0},
{"d":343.4,"WAI1":5.0,"WAI2":5.1,"WAI3":4.95},
{"d":343.5,"WAI1":5.0,"WAI2":5.1,"WAI3":5.0},
{"d":343.6,"WAI1":5.2,"WAI2":5.3,"WAI3":5.1},
{"d":343.7,"WAI1":5.3,"WAI2":5.4,"WAI3":5.3},
{"d":343.8,"WAI1":5.4,"WAI2":5.6,"WAI3":5.5},
{"d":343.9,"WAI1":5.5,"WAI2":5.7,"WAI3":5.5},
{"d":344.0,"WAI1":5.6,"WAI2":5.7,"WAI3":5.6},
{"d":344.1,"WAI1":5.7,"WAI2":5.8,"WAI3":5.6},
{"d":344.2,"WAI1":5.8,"WAI2":5.9,"WAI3":5.8},
{"d":344.3,"WAI1":5.8,"WAI2":6.0,"WAI3":5.9},
{"d":344.4,"WAI1":5.9,"WAI2":6.0,"WAI3":5.9},
{"d":344.5,"WAI1":6.0,"WAI2":6.1,"WAI3":6.0},
{"d":344.6,"WAI1":6.1,"WAI2":6.2,"WAI3":6.0},
{"d":344.7,"WAI1":6.1,"WAI2":6.3,"WAI3":6.2},
{"d":344.8,"WAI1":6.2,"WAI2":6.4,"WAI3":6.2},
{"d":344.9,"WAI1":6.3,"WAI2":6.5,"WAI3":6.3},
{"d":345.0,"WAI1":6.4,"WAI2":6.6,"WAI3":6.3},
{"d":345.1,"WAI1":6.5,"WAI2":6.7,"WAI3":6.4},
{"d":345.2,"WAI1":6.5,"WAI2":6.7,"WAI3":6.5},
{"d":345.3,"WAI1":6.7,"WAI2":6.9,"WAI3":6.7},
{"d":345.4,"WAI1":6.7,"WAI2":6.9,"WAI3":6.7},
{"d":345.5,"WAI1":6.7,"WAI2":6.9,"WAI3":6.6},
{"d":345.6,"WAI1":6.7,"WAI2":7.1,"WAI3":6.6},
{"d":345.7,"WAI1":6.8,"WAI2":7.0,"WAI3":6.8},
{"d":345.8,"WAI1":6.8,"WAI2":7.0,"WAI3":6.7},
{"d":345.9,"WAI1":6.8,"WAI2":7.0,"WAI3":6.7},
{"d":346.0,"WAI1":6.9,"WAI2":7.1,"WAI3":6.8},
{"d":346.1,"WAI1":6.8,"WAI2":7.0,"WAI3":6.7},
{"d":346.2,"WAI1":6.9,"WAI2":7.2,"WAI3":6.8},
{"d":346.3,"WAI1":6.9,"WAI2":7.1,"WAI3":6.8},
{"d":346.4,"WAI1":6.9,"WAI2":7.1,"WAI3":6.8},
{"d":346.5,"WAI1":7.0,"WAI2":7.2,"WAI3":6.9},
{"d":346.6,"WAI1":6.9,"WAI2":7.1,"WAI3":6.8},
{"d":346.7,"WAI1":7.0,"WAI2":7.3,"WAI3":6.9},
{"d":346.8,"WAI1":7.0,"WAI2":7.2,"WAI3":6.9},
{"d":346.9,"WAI1":7.1,"WAI2":7.3,"WAI3":7.0},
{"d":347.0,"WAI1":7.0,"WAI2":7.2,"WAI3":6.9},
{"d":347.1,"WAI1":7.1,"WAI2":7.3,"WAI3":7.0},
{"d":347.2,"WAI1":7.2,"WAI2":7.3,"WAI3":7.0},
{"d":347.3,"WAI1":7.1,"WAI2":7.3,"WAI3":7.0},
{"d":347.4,"WAI1":7.6,"WAI2":7.4,"WAI3":7.1},
{"d":347.5,"WAI1":7.2,"WAI2":7.4,"WAI3":7.1},
{"d":347.6,"WAI1":7.2,"WAI2":7.45,"WAI3":7.1},
{"d":347.7,"WAI1":7.3,"WAI2":7.5,"WAI3":7.2},
{"d":347.8,"WAI1":7.2,"WAI2":7.4,"WAI3":7.1},
{"d":347.9,"WAI1":7.3,"WAI2":7.6,"WAI3":7.2},
{"d":348.0,"WAI1":7.3,"WAI2":7.5,"WAI3":7.2},
{"d":348.1,"WAI1":7.3,"WAI2":7.5,"WAI3":7.1},
{"d":348.2,"WAI1":7.3,"WAI2":7.5,"WAI3":7.2},
{"d":348.3,"WAI1":7.3,"WAI2":7.5,"WAI3":7.2},
{"d":348.4,"WAI1":7.4,"WAI2":7.6,"WAI3":7.3},
{"d":348.5,"WAI1":7.4,"WAI2":7.5,"WAI3":7.3},
{"d":348.6,"WAI1":7.3,"WAI2":7.6,"WAI3":7.3},
{"d":348.7,"WAI1":7.4,"WAI2":7.6,"WAI3":7.4},
{"d":348.8,"WAI1":7.4,"WAI2":7.6,"WAI3":7.3},
{"d":348.9,"WAI1":7.5,"WAI2":7.7,"WAI3":7.4},
{"d":349.0,"WAI1":7.4,"WAI2":7.6,"WAI3":7.4},
{"d":349.1,"WAI1":7.0,"WAI2":7.1,"WAI3":7.0},
{"d":349.2,"WAI1":6.9,"WAI2":7.0,"WAI3":6.8},
{"d":349.3,"WAI1":6.7,"WAI2":6.8,"WAI3":6.5},
{"d":349.4,"WAI1":6.5,"WAI2":6.6,"WAI3":6.3}
]
},
"vconcat": [
{
  "width": 953, "height": 350,
  "title": {"text": "Significant Wave Statistics - Summer", "fontSize": 27.5, "fontWeight": "normal", "font": "Liberation Sans", "color": "#000000", "frame": "group", "anchor": "middle", "offset": 17},
  "data": {"name": "hs"},
  "transform": [{"fold": ["WAI1", "WAI2", "WAI3"], "as": ["sensor", "v"]}],
  "layer": [
    {
      "mark": {"type": "line", "strokeWidth": 1.6, "clip": true},
      "encoding": {
        "x": {"field": "d", "type": "quantitative", "scale": {"domain": [319, 350], "nice": false, "zero": false}, "axis": {"values": [320, 325, 330, 335, 340, 345, 350], "title": null, "labelPadding": 21}},
        "y": {"field": "v", "type": "quantitative", "scale": {"domain": [0, 3.2], "nice": false}, "axis": {"values": [0, 0.5, 1, 1.5, 2, 2.5, 3], "format": "~g", "title": "Significant Wave Height (m)", "labelPadding": 14, "titlePadding": 28}},
        "color": {"field": "sensor", "type": "nominal", "scale": {"domain": ["WAI1", "WAI2", "WAI3"], "range": ["#0000ff", "#000000", "#ff0000"]},
          "legend": {"orient": "top-left", "offset": 18, "title": null, "symbolType": "M-0.62,0H3.76", "symbolSize": 1369, "symbolStrokeWidth": 1.5, "labelFontSize": 27, "labelFont": "Liberation Sans", "labelColor": "#000000", "labelOffset": 62, "padding": 10, "rowPadding": 4, "strokeColor": "#000000", "fillColor": "#ffffff"}}
      }
    },
    {
      "mark": {"type": "line", "opacity": 0},
      "encoding": {
        "x": {"field": "d", "type": "quantitative", "scale": {"domain": [319, 350], "nice": false, "zero": false}, "axis": {"orient": "top", "values": [320, 325, 330, 335, 340, 345, 350], "labels": false, "title": null}},
        "y": {"field": "v", "type": "quantitative", "scale": {"domain": [0, 3.2], "nice": false}, "axis": {"orient": "right", "values": [0, 0.5, 1, 1.5, 2, 2.5, 3], "labels": false, "title": null}}
      }
    }
  ],
  "resolve": {"axis": {"x": "independent", "y": "independent"}}
},
{
  "width": 953, "height": 358,
  "data": {"name": "tp"},
  "transform": [{"fold": ["WAI1", "WAI2", "WAI3"], "as": ["sensor", "v"]}],
  "layer": [
    {
      "mark": {"type": "line", "strokeWidth": 1.6, "clip": true},
      "encoding": {
        "x": {"field": "d", "type": "quantitative", "scale": {"domain": [319, 350], "nice": false, "zero": false}, "axis": {"values": [320, 325, 330, 335, 340, 345, 350], "title": "Julian Day (2007)", "titleFontSize": 26, "labelPadding": 21, "titlePadding": 6}},
        "y": {"field": "v", "type": "quantitative", "scale": {"domain": [3, 12], "nice": false, "zero": false}, "axis": {"values": [4, 6, 8, 10, 12], "title": "Significant Wave Period (s)", "labelPadding": 14, "titlePadding": 34}},
        "color": {"field": "sensor", "type": "nominal", "scale": {"domain": ["WAI1", "WAI2", "WAI3"], "range": ["#0000ff", "#000000", "#ff0000"]}, "legend": null}
      }
    },
    {
      "mark": {"type": "line", "opacity": 0},
      "encoding": {
        "x": {"field": "d", "type": "quantitative", "scale": {"domain": [319, 350], "nice": false, "zero": false}, "axis": {"orient": "top", "values": [320, 325, 330, 335, 340, 345, 350], "labels": false, "title": null}},
        "y": {"field": "v", "type": "quantitative", "scale": {"domain": [3, 12], "nice": false, "zero": false}, "axis": {"orient": "right", "values": [4, 6, 8, 10, 12], "labels": false, "title": null}}
      }
    }
  ],
  "resolve": {"axis": {"x": "independent", "y": "independent"}}
}
],
"resolve": {"scale": {"color": "independent"}}
}
